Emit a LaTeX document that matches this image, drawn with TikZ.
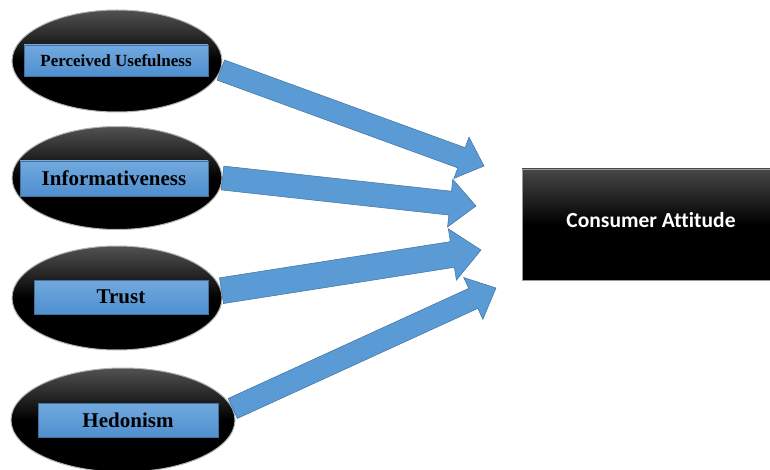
\documentclass[tikz,border=0pt]{standalone}
\usepackage{fontspec}
\setmainfont{Liberation Serif}
\newfontfamily\calib[Ligatures=NoCommon]{Carlito}
\usetikzlibrary{calc,shapes.geometric}
\definecolor{ablue}{HTML}{5B9BD5}
\definecolor{aedge}{HTML}{41719C}
\definecolor{btop}{HTML}{72A9DE}
\definecolor{bbot}{HTML}{4E8FCF}
\newcommand{\fatarrow}[6]{%
  \coordinate (#1a) at (#2);
  \coordinate (#1h) at ($(#3)!#6!(#1a)$);
  \draw[arrowbody] ($(#1a)!#4!-90:(#3)$) -- ($(#1h)!#4!-90:(#3)$) -- ($(#1h)!#5!-90:(#3)$) -- (#3)
    -- ($(#1h)!#5!90:(#3)$) -- ($(#1h)!#4!90:(#3)$) -- ($(#1a)!#4!90:(#3)$) -- cycle;}
\begin{document}
\begin{tikzpicture}[x=1pt,y=-1pt,
  oval/.style={ellipse, draw=black!30, line width=1pt, top color=black!68, bottom color=black, middle color=black, inner sep=0pt},
  labelbox/.style={draw=aedge, line width=0.6pt, top color=btop, bottom color=bbot, inner sep=0pt, font=\bfseries, text=black},
  arrowbody/.style={fill=ablue, draw=aedge, line width=0.5pt, line join=miter},
  outbox/.style={draw=black!40, line width=0.8pt, top color=black!72, bottom color=black, middle color=black, inner sep=0pt, text=white, font=\calib\bfseries\fontsize{21.5pt}{24pt}\selectfont}]
\useasboundingbox (0,0) rectangle (770,470);
\fill[white] (0,0) rectangle (770,470);
% ellipses
\node[oval, minimum width=210pt, minimum height=102pt] (e1) at (117,61) {};
\node[oval, minimum width=210pt, minimum height=103pt] (e2) at (117,178) {};
\node[oval, minimum width=210pt, minimum height=104pt] (e3) at (117,298) {};
\node[oval, minimum width=224pt, minimum height=104pt] (e4) at (123,420) {};
% label boxes
\node[labelbox, minimum width=184pt, minimum height=31pt, font=\bfseries\fontsize{17pt}{19pt}\selectfont] (b1) at (116,60.5) {Perceived Usefulness};
\node[labelbox, minimum width=188pt, minimum height=35pt, font=\bfseries\fontsize{21pt}{24pt}\selectfont] (b2) at (114,178.5) {Informativeness};
\node[labelbox, minimum width=174pt, minimum height=34pt, font=\bfseries\fontsize{21pt}{24pt}\selectfont] (b3) at (121,297) {Trust};
\node[labelbox, minimum width=180pt, minimum height=34pt, font=\bfseries\fontsize{21pt}{24pt}\selectfont] (b4) at (128,420) {Hedonism};
% target
\node[outbox, minimum width=258pt, minimum height=111pt] (ca) at (651,224.5) {\raisebox{10pt}{Consumer Attitude}};
% arrow tips
\coordinate (t1) at (484,166);
\coordinate (t2) at (476,206);
\coordinate (t3) at (481,250);
\coordinate (t4) at (496,288);
\fatarrow{f1}{e1.-5}{t1}{10.75pt}{22pt}{24pt}
\fatarrow{f2}{e2.east}{t2}{12pt}{24pt}{26pt}
\fatarrow{f3}{e3.4}{t3}{13pt}{26pt}{29pt}
\fatarrow{f4}{e4.6}{t4}{11pt}{23pt}{25pt}
\end{tikzpicture}
\end{document}
